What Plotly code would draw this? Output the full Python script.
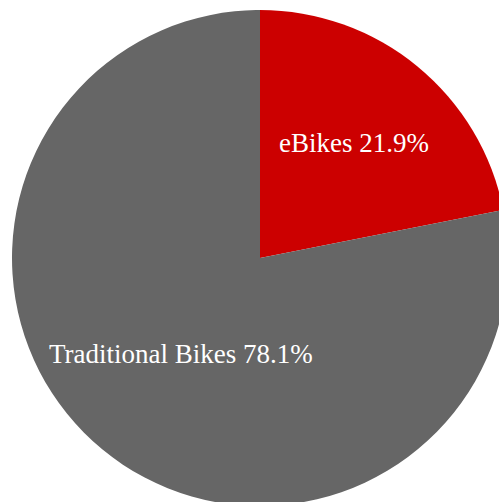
import math
import plotly.graph_objects as go

labels = ["eBikes", "Traditional Bikes"]
shares = [21.9, 78.1]
colors = ["#cc0000", "#666666"]

label_font = dict(family="Liberation Serif, Times New Roman, serif", size=27, color="white")

fig = go.Figure(
    go.Pie(
        labels=labels,
        values=shares,
        sort=False,
        direction="clockwise",
        rotation=0,
        marker=dict(colors=colors, line=dict(width=0)),
        textinfo="none",
        hovertemplate="%{label}: %{percent:.1%}<extra></extra>",
        showlegend=False,
    )
)

# Place each slice label on its bisector, at a fraction of the radius
radial_pos = [0.6, 0.5]
total = sum(shares)
start = 0.0
for name, val, frac in zip(labels, shares, radial_pos):
    mid = 2 * math.pi * (start + val / 2) / total  # clockwise from 12 o'clock
    start += val
    fig.add_annotation(
        x=0.5 + 0.5 * frac * math.sin(mid),
        y=0.5 + 0.5 * frac * math.cos(mid),
        xref="paper",
        yref="paper",
        text=f"{name} {val / total * 100:.1f}%",
        showarrow=False,
        xanchor="center",
        yanchor="middle",
        font=label_font,
    )

fig.update_layout(
    width=520,
    height=516,
    margin=dict(l=12, r=12, t=10, b=10),
    paper_bgcolor="white",
    plot_bgcolor="white",
)

fig.write_html("out.html", post_script="document.body.style.margin='0';document.body.style.overflow='hidden';")
